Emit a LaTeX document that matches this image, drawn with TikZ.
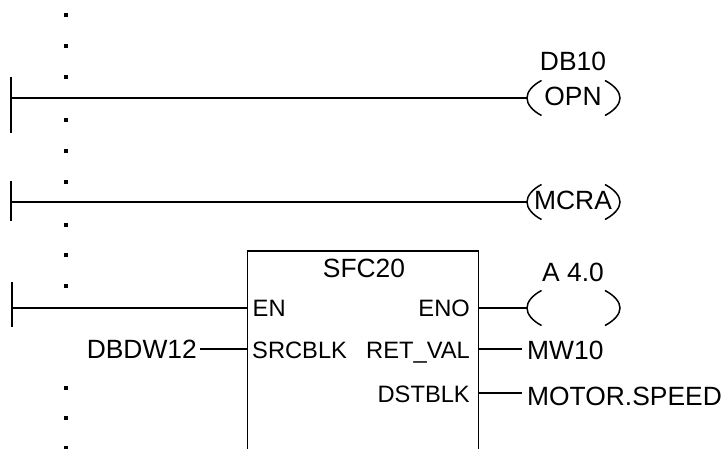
\documentclass[tikz,border=0pt]{standalone}
\usepackage{fontspec}
\setmainfont{Liberation Sans}
\tikzset{
  wire/.style={line width=1.5pt,black},
  dotmark/.style={fill=black,draw=none,minimum size=4pt,inner sep=0pt,rectangle},
  biglabel/.style={inner sep=0pt,font=\fontsize{26.4}{30}\selectfont,text=black},
  pinlabel/.style={inner sep=0pt,font=\fontsize{23.7}{28}\selectfont,text=black},
  fbbox/.style={draw=black,line width=1.5pt,rectangle,inner sep=0pt,minimum width=231pt,minimum height=240pt,anchor=north west},
  coilarc/.pic={
    \draw[wire] (14.5,-17.5) .. controls (5,-12.5) and (0,-6) .. (0,0) .. controls (0,6) and (5,12.5) .. (14.5,17.5);
    \draw[wire] (78,-17.5) .. controls (87.5,-12.5) and (93,-6) .. (93,0) .. controls (93,6) and (87.5,12.5) .. (78,17.5);
  }
}
\begin{document}
\begin{tikzpicture}[x=1pt,y=-1pt]
\useasboundingbox (0,0) rectangle (725,449);
\clip (0,0) rectangle (725,449);
% dots
\foreach \yy in {15,46,77,120,151,182,225,255,286,388,418,448}{
  \node[dotmark] at (65.5,\yy) {};
}
% rails
\coordinate (r1t) at (11,77);  \coordinate (r1b) at (11,133); \coordinate (r1m) at (11,98);
\coordinate (r2t) at (11,181); \coordinate (r2b) at (11,221); \coordinate (r2m) at (11,202);
\coordinate (r3t) at (12,282); \coordinate (r3b) at (12,327); \coordinate (r3m) at (12,308);
\draw[wire] (r1t) -- (r1b);
\draw[wire] (r2t) -- (r2b);
\draw[wire] (r3t) -- (r3b);
% coil anchors
\coordinate (c1) at (527,98);
\coordinate (c2) at (527,202);
\coordinate (c3) at (527,308);
\pic at (c1) {coilarc};
\pic at (c2) {coilarc};
\pic at (c3) {coilarc};
\draw[wire] (r1m) -- (c1);
\draw[wire] (r2m) -- (c2);
% function block
\node[fbbox] (sfc) at (246.5,250) {};
\coordinate (en) at (sfc.west |- r3m);
\coordinate (src) at (sfc.west |- 0,349);
\coordinate (eno) at (sfc.east |- r3m);
\coordinate (ret) at (sfc.east |- 0,349);
\coordinate (dst) at (sfc.east |- 0,393);
\coordinate (srcfree) at (200,349);
\coordinate (retfree) at (522,349);
\coordinate (dstfree) at (522,393);
\draw[wire] (r3m) -- (en);
\draw[wire] (srcfree) -- (src);
\draw[wire] (eno) -- (c3);
\draw[wire] (ret) -- (retfree);
\draw[wire] (dst) -- (dstfree);
% labels
\node[biglabel,anchor=base] (db10) at (573,71) {DB10};
\node[biglabel,anchor=base] (opn) at (573,106) {OPN};
\node[biglabel,anchor=base] (mcra) at (573,210) {MCRA};
\node[biglabel,anchor=base] (sfcname) at (364,277) {SFC20};
\node[biglabel,anchor=base] (a40) at (573,281) {A 4.0};
\node[biglabel,anchor=base west] (mw10) at (527,359) {MW10};
\node[biglabel,anchor=base west] (motor) at (527,405) {MOTOR.SPEED};
\node[biglabel,anchor=base east] (dbdw) at (197,358) {DBDW12};
\node[pinlabel,anchor=base west] (lblen) at (252.5,316) {EN};
\node[pinlabel,anchor=base west] (lblsrc) at (252,358) {SRCBLK};
\node[pinlabel,anchor=base east] (lbleno) at (470,316) {ENO};
\node[pinlabel,anchor=base east] (lblret) at (470,358) {RET\_VAL};
\node[pinlabel,anchor=base east] (lbldst) at (470,402) {DSTBLK};
\end{tikzpicture}
\end{document}
